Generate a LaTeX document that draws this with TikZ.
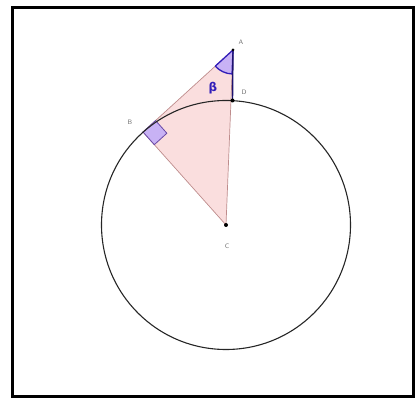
\documentclass[tikz,border=0pt]{standalone}
\usepackage{fontspec}
\newfontfamily\dejavu{DejaVu Sans}
\usetikzlibrary{calc,angles}
\definecolor{pinkfill}{RGB}{250,222,222}
\definecolor{pinkedge}{RGB}{190,140,140}
\definecolor{lav}{RGB}{200,178,245}
\definecolor{angblue}{RGB}{50,30,185}
\definecolor{lblgray}{RGB}{110,110,110}
\tikzset{
  lbl/.style={font=\sffamily\fontsize{6.5}{7}\selectfont, text=lblgray, inner sep=0pt},
  pt/.style={circle, fill=black, inner sep=0pt, minimum size=4pt},
}
\begin{document}
\begin{tikzpicture}[x=1pt,y=-1pt]
\useasboundingbox (0,0) rectangle (416,398);
\draw[line width=3pt] (12.5,7.5) rectangle (413.5,396.5);
\coordinate (C) at (226,225);
\coordinate (A) at (233,50);
\coordinate (B) at (143,132);
\coordinate (D) at (232.5,100.5);
% triangle
\fill[pinkfill] (A) -- (B) -- (C) -- cycle;
\draw[pinkedge, line width=0.7pt] (A) -- (B) -- (C) -- cycle;
% right angle at B
\coordinate (P1) at ($(B)!17pt!(A)$);
\coordinate (P3) at ($(B)!17pt!(C)$);
\coordinate (P2) at ($(P1)+(P3)-(B)$);
\filldraw[fill=lav, draw=angblue!60!pinkedge, line width=0.8pt] (B) -- (P1) -- (P2) -- (P3) -- cycle;
% angle at A
\pic[draw=angblue, fill=lav, line width=1.3pt, angle radius=24pt] {angle = B--A--C};
\coordinate (Q1) at ($(A)!24pt!(B)$);
\coordinate (Q2) at ($(A)!24pt!(C)$);
\draw[angblue, line width=1.3pt, line join=round] (Q1) -- (A) -- (Q2);
\draw[angblue!60!black, line width=1.4pt] (A) -- (D);
% circle
\draw[line width=1.1pt, black!85] (C) circle (124.5);
% points
\node[pt] (Cn) at (C) {};
\node[pt, minimum size=3pt] (An) at (A) {};
\node[pt] (Dn) at (D) {};
% labels
\node[lbl] (la) at (241,42) {A};
\node[lbl] (ld) at (244,92) {D};
\node[lbl] (lb) at (130,122) {B};
\node[lbl] (lc) at (227,246) {C};
\node[text=angblue, font=\dejavu\bfseries\fontsize{12}{12}\selectfont, inner sep=0pt] (beta) at (213,88) {β};
\end{tikzpicture}
\end{document}
